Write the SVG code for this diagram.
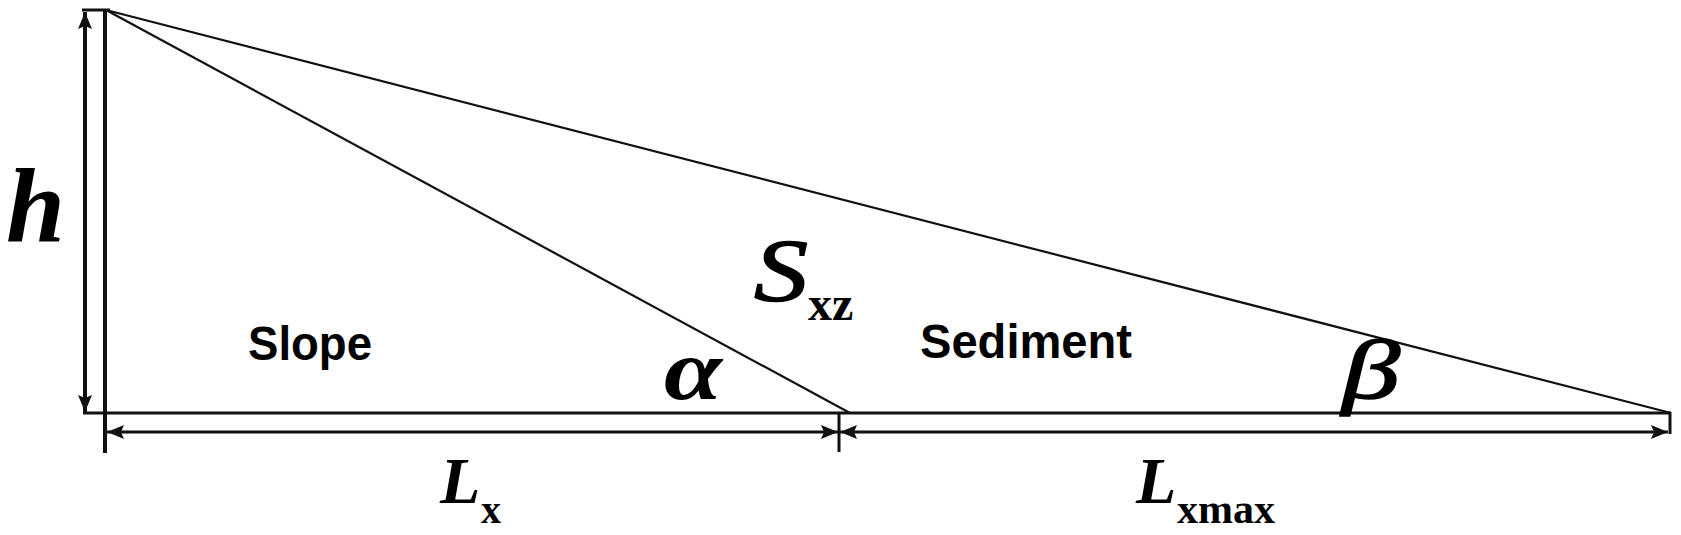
<svg xmlns="http://www.w3.org/2000/svg" width="1681" height="535" viewBox="0 0 1681 535">
<defs>
<style>
.ln{stroke:#111;fill:none;stroke-linecap:butt}
.thin{stroke-width:2.2}
.mid{stroke-width:3}
.thick{stroke-width:4}
.math{font-family:"Liberation Serif","Times New Roman",serif;fill:#000}
.bi{font-weight:bold;font-style:italic}
.it{font-style:italic}
.sub{font-weight:bold}
.lbl{font-family:"Liberation Sans",Arial,sans-serif;font-weight:bold;fill:#000}
</style>
<marker id="ah" markerUnits="userSpaceOnUse" markerWidth="18" markerHeight="16" viewBox="0 -8 18 16" refX="17" refY="0" orient="auto-start-reverse">
<path d="M0,-7 L17,0 L0,7 L3,0 Z" fill="#111"/>
</marker>
</defs>
<rect width="1681" height="535" fill="#fff"/>

<g id="slope-body">
<line class="ln thick" x1="105" y1="10" x2="105" y2="453"/>
<line class="ln mid" x1="82" y1="10" x2="110" y2="10"/>
<line class="ln mid" x1="83" y1="413" x2="1671" y2="413"/>
<line class="ln thin" x1="106" y1="10" x2="850" y2="413"/>
<line class="ln thin" x1="106" y1="10" x2="1671" y2="413"/>
<line class="ln mid" x1="1670" y1="412" x2="1670" y2="434"/>
<line class="ln mid" x1="839" y1="413" x2="839" y2="452"/>
</g>

<g id="connectors">
<line class="ln thick" x1="85" y1="12" x2="85" y2="412" marker-start="url(#ah)" marker-end="url(#ah)"/>
<line class="ln mid" x1="107" y1="432" x2="838" y2="432" marker-start="url(#ah)" marker-end="url(#ah)"/>
<line class="ln mid" x1="840" y1="432" x2="1668" y2="432" marker-start="url(#ah)" marker-end="url(#ah)"/>
</g>

<g id="label-h"><text class="math bi" x="6" y="242" font-size="106">h</text></g>
<g id="label-sxz">
<text class="math it" x="754" y="300" font-size="88" textLength="54" lengthAdjust="spacingAndGlyphs" stroke="#000" stroke-width="1.5">S</text>
<text class="math sub" x="808" y="320" font-size="48">xz</text>
</g>
<g id="label-slope"><text class="lbl" x="248" y="360" font-size="48" textLength="124" lengthAdjust="spacingAndGlyphs">Slope</text></g>
<g id="label-sediment"><text class="lbl" x="920" y="358" font-size="48" textLength="212" lengthAdjust="spacingAndGlyphs">Sediment</text></g>
<g id="label-alpha"><text class="math bi" x="664" y="399" font-size="86" textLength="58" lengthAdjust="spacingAndGlyphs">α</text></g>
<g id="label-beta"><text class="math it" x="1342" y="398" font-size="84" textLength="58" lengthAdjust="spacingAndGlyphs" stroke="#000" stroke-width="1.5">β</text></g>
<g id="label-lx">
<text class="math bi" x="440" y="503" font-size="66">L</text>
<text class="math sub" x="481" y="523" font-size="40">x</text>
</g>
<g id="label-lxmax">
<text class="math bi" x="1136" y="503" font-size="66">L</text>
<text class="math sub" x="1177" y="523" font-size="42">xmax</text>
</g>
</svg>
